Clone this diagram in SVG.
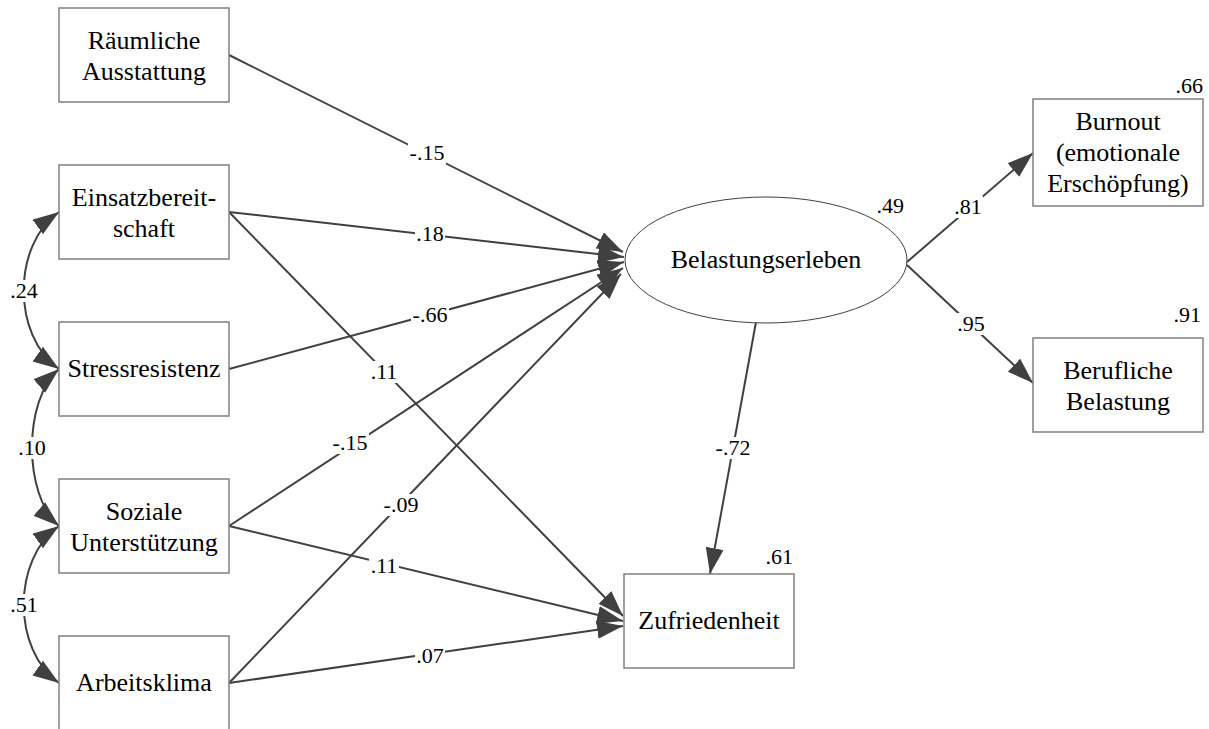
<svg xmlns="http://www.w3.org/2000/svg" width="1209" height="729" viewBox="0 0 1209 729">
<style>
.box{fill:#fff;stroke:#808080;stroke-width:1.5}
.ell{fill:#fff;stroke:#404040;stroke-width:1}
text{font-family:'Liberation Serif','Times New Roman',serif;fill:#000}
.t{font-size:26px;text-anchor:middle}
.l{font-size:22px;text-anchor:middle}
.r{font-size:22px;text-anchor:end}
.c{fill:none;stroke:#404040;stroke-width:2}
.a{marker-end:url(#ah)}
.d{marker-start:url(#ah);marker-end:url(#ah)}
.bg{fill:#fff}
</style>
<defs>
<marker id="ah" markerUnits="userSpaceOnUse" markerWidth="28" markerHeight="20" refX="26" refY="9" orient="auto-start-reverse">
<path d="M0,0 L26,9 L0,18 z" fill="#404040"/>
</marker>
</defs>
<g id="connectors">
<line class="c a" x1="229" y1="55" x2="623" y2="252"/>
<line class="c a" x1="229" y1="212" x2="624" y2="257"/>
<line class="c a" x1="229" y1="369" x2="624" y2="262"/>
<line class="c a" x1="229" y1="526" x2="623" y2="268"/>
<line class="c a" x1="229" y1="683" x2="621" y2="274"/>
<line class="c a" x1="229" y1="212" x2="623" y2="616"/>
<line class="c a" x1="229" y1="526" x2="623" y2="621"/>
<line class="c a" x1="229" y1="683" x2="623" y2="626"/>
<line class="c a" x1="756" y1="322" x2="710" y2="574"/>
<line class="c a" x1="907" y1="262" x2="1033" y2="153"/>
<line class="c a" x1="907" y1="265" x2="1033" y2="383"/>
<path class="c d" d="M59,212 C12,245 12,336 59,369"/>
<path class="c d" d="M59,369 C23,400 23,495 59,526"/>
<path class="c d" d="M59,526 C12,559 12,650 59,683"/>
</g>
<g id="labels">
<rect class="bg" x="408" y="142" width="38" height="22"/><text class="l" x="427" y="160">-.15</text>
<rect class="bg" x="415" y="223" width="30" height="22"/><text class="l" x="430" y="241">.18</text>
<rect class="bg" x="411" y="304" width="38" height="22"/><text class="l" x="430" y="322">-.66</text>
<rect class="bg" x="369" y="361" width="30" height="22"/><text class="l" x="384" y="379">.11</text>
<rect class="bg" x="331" y="432" width="38" height="22"/><text class="l" x="350" y="450">-.15</text>
<rect class="bg" x="382" y="494" width="38" height="22"/><text class="l" x="401" y="512">-.09</text>
<rect class="bg" x="369" y="555" width="30" height="22"/><text class="l" x="384" y="573">.11</text>
<rect class="bg" x="415" y="645" width="30" height="22"/><text class="l" x="430" y="663">.07</text>
<rect class="bg" x="714" y="437" width="38" height="22"/><text class="l" x="733" y="455">-.72</text>
<rect class="bg" x="953" y="196" width="30" height="22"/><text class="l" x="968" y="214">.81</text>
<rect class="bg" x="956" y="313" width="30" height="22"/><text class="l" x="971" y="331">.95</text>
<rect class="bg" x="9" y="280" width="30" height="22"/><text class="l" x="24" y="298">.24</text>
<rect class="bg" x="17" y="437" width="30" height="22"/><text class="l" x="32" y="455">.10</text>
<rect class="bg" x="9" y="594" width="30" height="22"/><text class="l" x="24" y="612">.51</text>
</g>
<g id="raeumliche"><rect class="box" x="59" y="8" width="170" height="94"/><text class="t" x="144" y="48.5">Räumliche</text><text class="t" x="144" y="79.5">Ausstattung</text></g>
<g id="einsatz"><rect class="box" x="59" y="165" width="170" height="94"/><text class="t" x="144" y="205.5">Einsatzbereit-</text><text class="t" x="144" y="236.5">schaft</text></g>
<g id="stress"><rect class="box" x="59" y="322" width="170" height="94"/><text class="t" x="144" y="377">Stressresistenz</text></g>
<g id="sozial"><rect class="box" x="59" y="479" width="170" height="94"/><text class="t" x="144" y="519.5">Soziale</text><text class="t" x="144" y="550.5">Unterstützung</text></g>
<g id="klima"><rect class="box" x="59" y="636" width="170" height="94"/><text class="t" x="144" y="691">Arbeitsklima</text></g>
<g id="belastung"><ellipse class="ell" cx="766" cy="260" rx="141" ry="63"/><text class="t" x="766" y="268">Belastungserleben</text><text class="r" x="904" y="213">.49</text></g>
<g id="zufriedenheit"><rect class="box" x="624" y="574" width="170" height="94"/><text class="t" x="709" y="629">Zufriedenheit</text><text class="r" x="793" y="564">.61</text></g>
<g id="burnout"><rect class="box" x="1033" y="99" width="170" height="107"/><text class="t" x="1118" y="129.5">Burnout</text><text class="t" x="1118" y="160.5">(emotionale</text><text class="t" x="1118" y="191.5">Erschöpfung)</text><text class="r" x="1203" y="93">.66</text></g>
<g id="beruflich"><rect class="box" x="1033" y="338" width="170" height="94"/><text class="t" x="1118" y="378.5">Berufliche</text><text class="t" x="1118" y="409.5">Belastung</text><text class="r" x="1201" y="322">.91</text></g>
</svg>
